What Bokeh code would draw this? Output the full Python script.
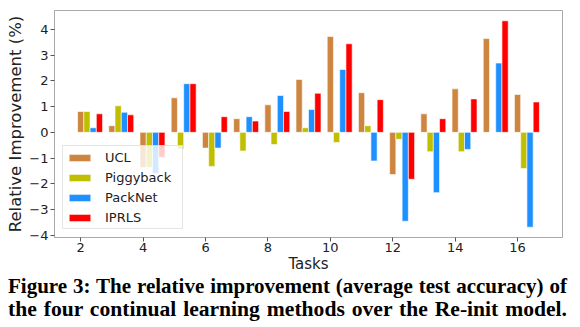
from bokeh.plotting import figure
from bokeh.layouts import column
from bokeh.models import Range1d, FixedTicker, Legend, LegendItem, Div, ColumnDataSource
from bokeh.embed import file_html
from bokeh.resources import INLINE

tasks = list(range(2, 17))
series_names = ["UCL", "Piggyback", "PackNet", "IPRLS"]
ucl       = [0.81, 0.26, -1.36, 1.34, -0.61, 0.53, 1.07, 2.05, 3.72, 1.54, -1.64, 0.72, 1.69, 3.64, 1.47]
piggyback = [0.81, 1.03, -1.36, -0.65, -1.32, -0.72, -0.47, 0.18, -0.39, 0.26, -0.27, -0.75, -0.75, 0.00, -1.40]
packnet   = [0.18, 0.78, -1.60, 1.89, -0.61, 0.61, 1.43, 0.89, 2.44, -1.11, -3.45, -2.34, -0.66, 2.69, -3.68]
iprls     = [0.72, 0.68, -0.97, 1.89, 0.61, 0.44, 0.81, 1.52, 3.44, 1.27, -1.82, 0.53, 1.30, 4.33, 1.18]
colors = ["#CD853F", "#BFBF00", "#1E90FF", "#FF0000"]
x_ticks = [2, 4, 6, 8, 10, 12, 14, 16]
y_ticks = [-4, -3, -2, -1, 0, 1, 2, 3, 4]
caption_lines = ["Figure 3: The relative improvement (average test accuracy) of",
                 "the four continual learning methods over the Re-init model."]
bar_w = 0.2

values = [ucl, piggyback, packnet, iprls]
all_vals = [v for s in values for v in s]
ymin, ymax = min(all_vals), max(all_vals)
pad = 0.05 * (ymax - ymin)
xmin, xmax = tasks[0] - bar_w / 2, tasks[-1] + 3 * bar_w + bar_w / 2
xpad = 0.05 * (xmax - xmin)

p = figure(width=580, height=275, output_backend="svg", toolbar_location=None,
           x_range=Range1d(xmin - xpad, xmax + xpad),
           y_range=Range1d(ymin - pad, ymax + pad),
           min_border_left=54, min_border_right=18, min_border_top=10, min_border_bottom=38)
p.background_fill_color = "white"
p.border_fill_color = "white"
p.outline_line_color = "#aaaaaa"
p.xgrid.visible = False
p.ygrid.visible = False

items = []
for i, (name, vals, col) in enumerate(zip(series_names, values, colors)):
    src = ColumnDataSource(dict(x=[t + bar_w * i for t in tasks], top=vals))
    r = p.vbar(x="x", top="top", bottom=0, width=bar_w, source=src,
               fill_color=col, line_color="white", line_width=0.6)
    items.append(LegendItem(label=name, renderers=[r]))

for ax in (p.xaxis[0], p.yaxis[0]):
    ax.axis_line_color = "#aaaaaa"
    ax.major_tick_line_color = "#555555"
    ax.minor_tick_line_color = None
    ax.major_tick_in = 0
    ax.major_tick_out = 4
    ax.major_label_text_font = "DejaVu Sans"
    ax.major_label_text_font_size = "13px"
    ax.major_label_text_color = "#222222"
    ax.axis_label_text_font = "DejaVu Sans"
    ax.axis_label_text_font_style = "normal"
    ax.axis_label_text_color = "#222222"

p.xaxis.ticker = FixedTicker(ticks=x_ticks)
p.yaxis.ticker = FixedTicker(ticks=y_ticks)
p.yaxis.major_label_overrides = {t: ("\u2212" + str(-t) if t < 0 else str(t)) for t in y_ticks}
p.xaxis.axis_label = "Tasks"
p.yaxis.axis_label = "Relative Improvement (%)"
p.xaxis.axis_label_text_font_size = "15px"
p.yaxis.axis_label_text_font_size = "16.5px"
p.xaxis.major_label_standoff = 1
p.xaxis.axis_label_standoff = 0
p.yaxis.major_label_standoff = 2
p.yaxis.axis_label_standoff = 1

legend = Legend(items=items, location=(8, 8), orientation="vertical")
legend.label_text_font = "DejaVu Sans"
legend.label_text_font_size = "13px"
legend.label_text_color = "#222222"
legend.glyph_width = 27
legend.glyph_height = 9
legend.label_height = 16
legend.label_width = 74
legend.label_standoff = 12
legend.spacing = 4
legend.padding = 3
legend.margin = 0
legend.border_line_color = "#cccccc"
legend.background_fill_alpha = 0.8
p.add_layout(legend, "center")

line_style = ("text-align:justify;text-align-last:justify;line-height:23px;"
              "white-space:normal;")
cap_html = (
    "<div style=\"font-family:'Liberation Serif';font-weight:bold;color:#000;"
    "width:559px;margin-left:8px;\">"
    f"<div style=\"{line_style}font-size:21px;margin-top:0px;\">{caption_lines[0]}</div>"
    f"<div style=\"{line_style}font-size:21.6px;\">{caption_lines[1]}</div>"
    "</div>"
)
cap = Div(text=cap_html, width=580, height=51, margin=(0, 0, 0, 0))

layout = column(p, cap, spacing=0)
open("out.html", "w").write(file_html(layout, INLINE))
